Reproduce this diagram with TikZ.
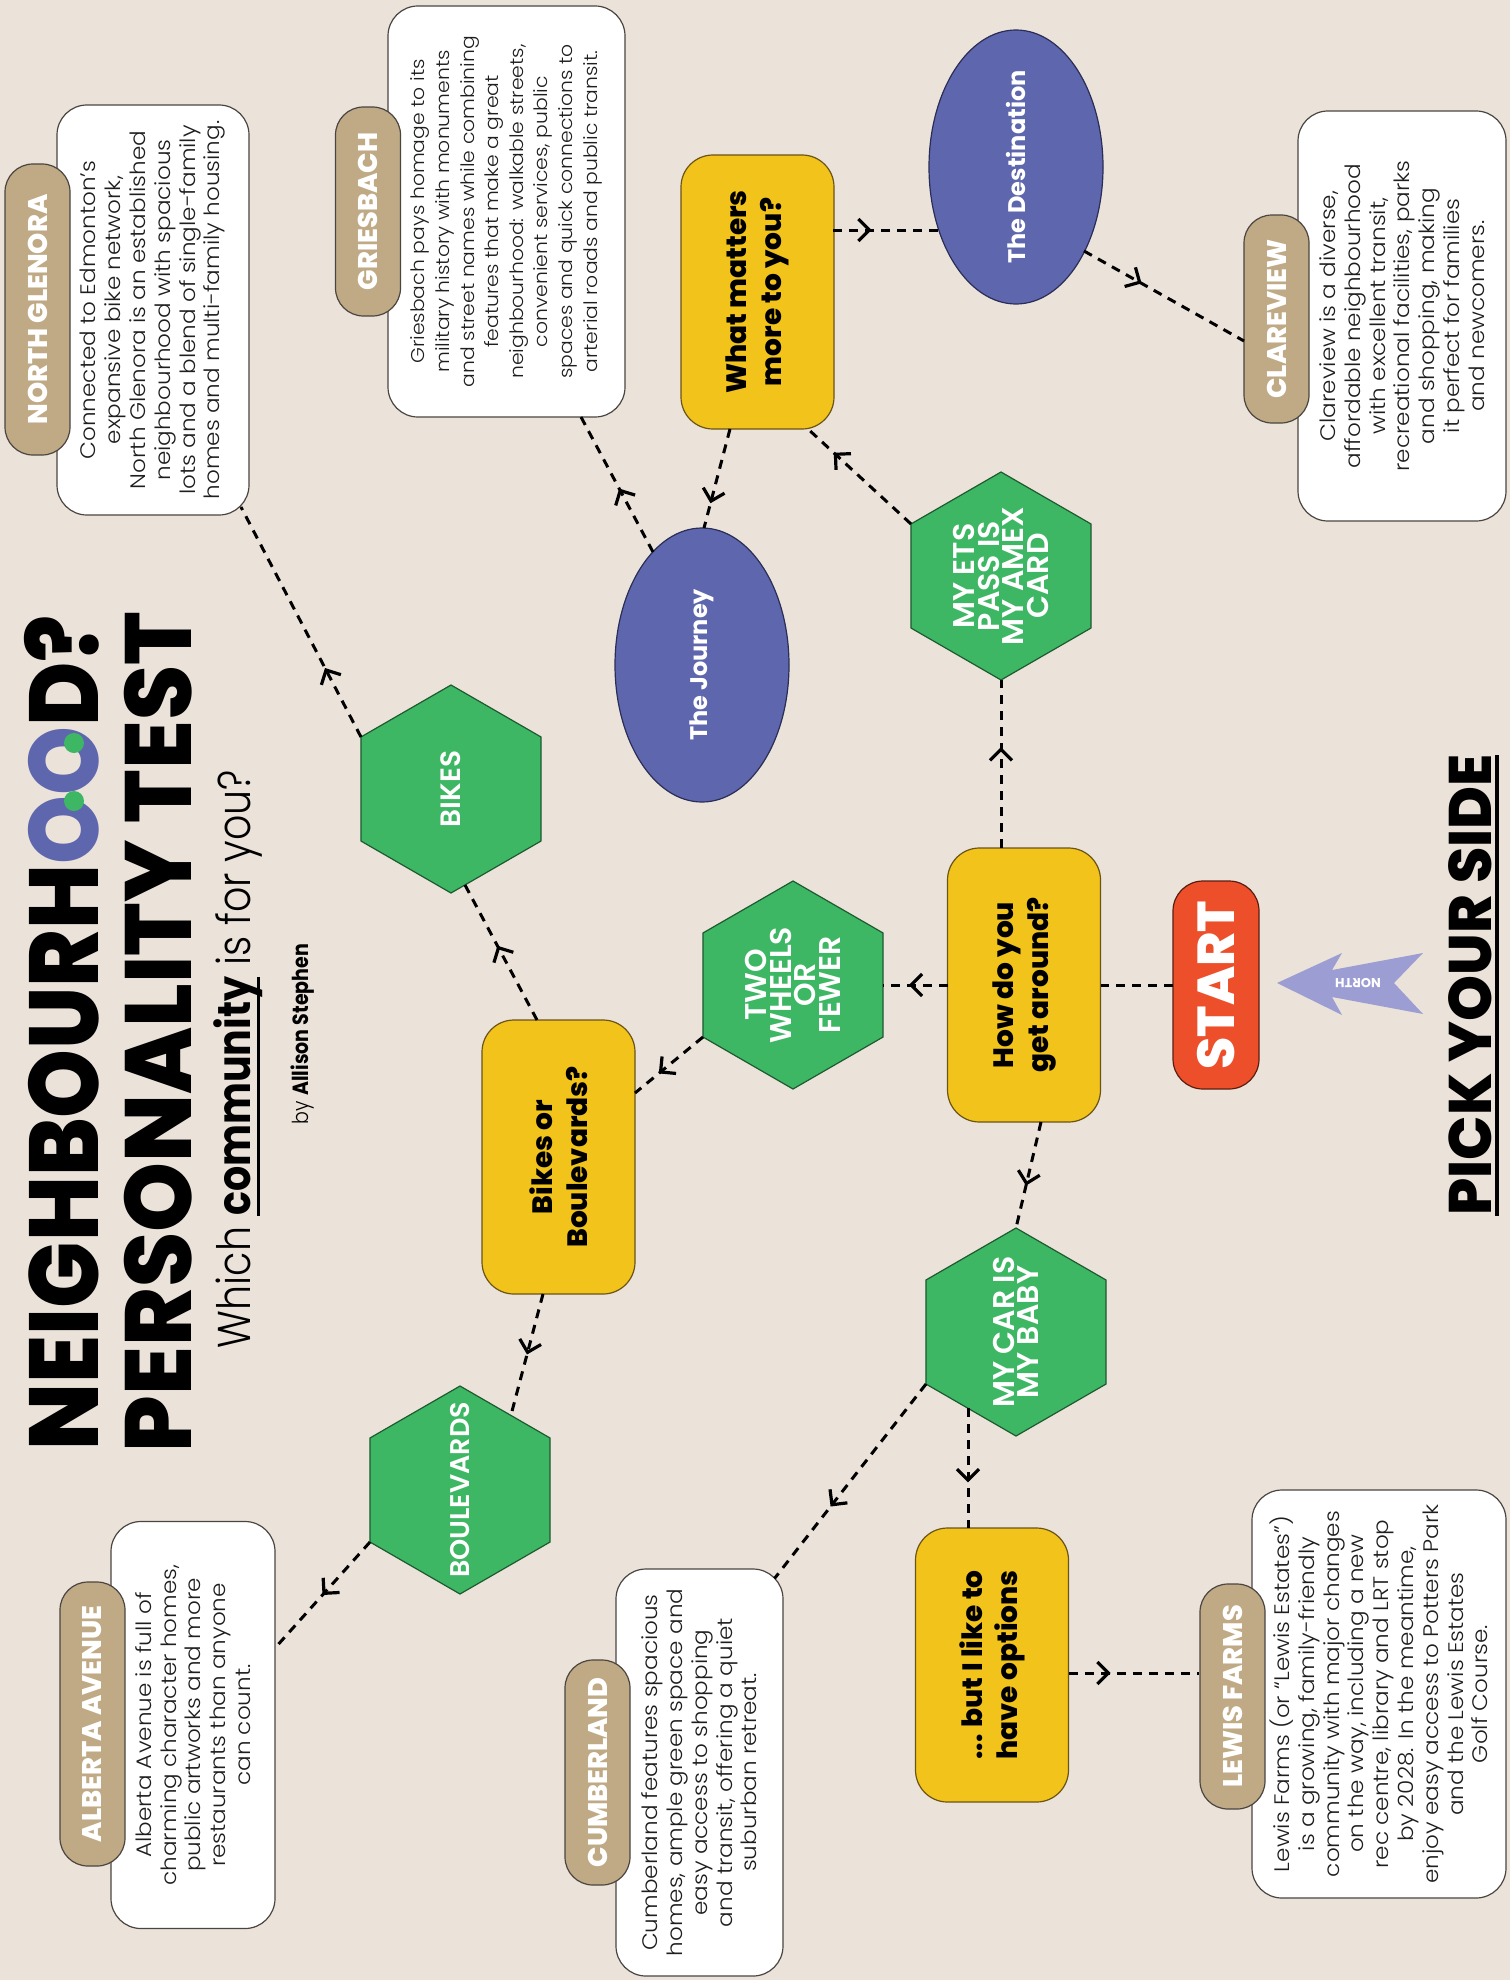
\documentclass[tikz,border=0pt]{standalone}
\usepackage{fontspec}
\usepackage{graphicx}
\setmainfont{Poppins}
\newfontfamily\pxb{Poppins ExtraBold}
\newfontfamily\pbd{Poppins Bold}
\newfontfamily\psb{Poppins SemiBold}
\newfontfamily\plt{Poppins Light}
\newfontfamily\pltw{Poppins Light}[FakeStretch=1.1]
\usetikzlibrary{shapes.geometric,decorations.markings,arrows.meta,calc}
\definecolor{bgc}{HTML}{EBE3D9}
\definecolor{yelc}{HTML}{F2C31A}
\definecolor{yelb}{HTML}{6B5418}
\definecolor{hexc}{HTML}{3DB764}
\definecolor{hexb}{HTML}{1E5A30}
\definecolor{purc}{HTML}{5E66AE}
\definecolor{purb}{HTML}{2A2D55}
\definecolor{redc}{HTML}{EE4F2B}
\definecolor{redb}{HTML}{5A1E10}
\definecolor{tanc}{HTML}{BFAA85}
\definecolor{lavc}{HTML}{9C9ED3}
\definecolor{txtc}{HTML}{1E1E1E}
\definecolor{boxb}{HTML}{4A4540}
\newcommand\myul[3]{\setbox0\hbox{#1}\rlap{\rule[#2]{\wd0}{#3}}\box0}
\begin{document}
\begin{tikzpicture}[x=1pt,y=-1pt,
  base/.style={rotate=90,align=center,inner sep=0pt,outer sep=0pt},
  ybox/.style={base,draw=yelb,line width=1.2pt,fill=yelc,rounded corners=32pt,minimum width=274pt,minimum height=153pt,text=black,font=\pxb\fontsize{28pt}{35pt}\selectfont},
  startbox/.style={base,draw=redb,line width=1.2pt,fill=redc,rounded corners=30pt,minimum width=208pt,minimum height=86pt,text=white,font=\pxb\fontsize{52pt}{52pt}\selectfont},
  hexa/.style={base,regular polygon,regular polygon sides=6,minimum size=208pt,draw=hexb,line width=1.2pt,fill=hexc},
  hextext/.style={base,text=white,font=\psb\fontsize{30pt}{24.5pt}\selectfont},
  ell/.style={base,ellipse,minimum width=274pt,minimum height=174pt,draw=purb,line width=1.2pt,fill=purc,text=white,font=\pbd\fontsize{24pt}{28pt}\selectfont},
  wbox/.style={base,draw=boxb,line width=1.2pt,fill=white,rounded corners=30pt,minimum width=410pt,text=txtc,font=\pltw\fontsize{21pt}{24.8pt}\selectfont},
  tagbox/.style={base,draw=boxb,line width=1.2pt,fill=tanc,rounded corners=28pt,minimum height=65pt,text=white,font=\pxb\fontsize{27pt}{27pt}\selectfont},
  flow/.style={draw=black,line width=3pt,dash pattern=on 9pt off 7pt,postaction={decorate},decoration={markings,mark=at position #1 with {\arrow[solid,line width=3.2pt]{Straight Barb[length=11pt,width=22pt]}}}},
  flow/.default=0.5,
  plainflow/.style={draw=black,line width=3pt,dash pattern=on 9pt off 7pt}]
\useasboundingbox (0,0) rectangle (1510,1980);
\fill[bgc] (0,0) rectangle (1510,1980);

% titles
\node[base] (t1) at (61.5,1032.5) {\resizebox{835pt}{\height}{\pxb\fontsize{98pt}{98pt}\selectfont NEIGHBOURH\textcolor{purc}{OO}D?}};
\fill[hexc] (74,801) circle (10);
\fill[hexc] (74,743) circle (10);
\node[base] (t2) at (158,1032) {\resizebox{840pt}{\height}{\pxb\fontsize{94pt}{94pt}\selectfont PERSONALITY TEST}};
\node[base,text=black] (which) at (238,1059) {\resizebox{578pt}{\height}{\fontsize{46pt}{46pt}\selectfont{\plt Which }\myul{\pbd community}{-0.2em}{0.05em}{\plt\ is for you?}}};
\node[base,text=black] (by) at (303,1034) {\resizebox{180pt}{\height}{\fontsize{22pt}{22pt}\selectfont{\plt by }{\pbd Allison Stephen}}};
\node[base,text=black] (pick) at (1474,985) {\resizebox{461pt}{\height}{\pxb\fontsize{60pt}{60pt}\selectfont\myul{PICK YOUR SIDE}{-0.12em}{0.07em}}};

% north arrow
\fill[lavc] (1277,983) -- (1342,953) -- (1332,970) -- (1423,953) -- (1394,983) -- (1423,1014) -- (1332,997) -- (1342,1015) -- cycle;
\node[rotate=180,inner sep=0pt,text=white,font=\pbd\fontsize{13pt}{13pt}\selectfont] (northt) at (1358,983) {NORTH};

% white description boxes and tags
\node[wbox,minimum height=192pt] (glen) at (153,310) {Connected to Edmonton’s\\expansive bike network,\\North Glenora is an established\\neighbourhood with spacious\\lots and a blend of single-family\\homes and multi-family housing.};
\node[tagbox,minimum width=291pt] (glentag) at (37.5,309.5) {NORTH GLENORA};
\node[wbox,minimum height=237pt,minimum width=411pt,font=\pltw\fontsize{18.5pt}{24.6pt}\selectfont] (gries) at (506.5,211.5) {Griesbach pays homage to its\\military history with monuments\\and street names while combining\\features that make a great\\neighbourhood: walkable streets,\\convenient services, public\\spaces and quick connections to\\arterial roads and public transit.};
\node[tagbox,minimum width=209pt] (griestag) at (368,211.5) {GRIESBACH};
\node[wbox,minimum height=208pt] (clare) at (1402,316) {Clareview is a diverse,\\affordable neighbourhood\\with excellent transit,\\recreational facilities, parks\\and shopping, making\\it perfect for families\\and newcomers.};
\node[tagbox,minimum width=208pt] (claretag) at (1276.5,319) {CLAREVIEW};
\node[wbox,minimum height=164pt,minimum width=407pt] (alb) at (193,1725) {Alberta Avenue is full of\\charming character homes,\\public artworks and more\\restaurants than anyone\\can count.};
\node[tagbox,minimum width=284pt] (albtag) at (92.5,1724) {ALBERTA AVENUE};
\node[wbox,minimum height=167pt,minimum width=407pt] (cumb) at (699.5,1772.5) {Cumberland features spacious\\homes, ample green space and\\easy access to shopping\\and transit, offering a quiet\\suburban retreat.};
\node[tagbox,minimum width=225pt] (cumbtag) at (597.5,1772.5) {CUMBERLAND};
\node[wbox,minimum height=254pt,minimum width=408pt] (lewis) at (1379,1694) {Lewis Farms (or “Lewis Estates”)\\is a growing, family-friendly\\community with major changes\\on the way, including a new\\rec centre, library and LRT stop\\by 2028. In the meantime,\\enjoy easy access to Potters Park\\and the Lewis Estates\\Golf Course.};
\node[tagbox,minimum width=225pt] (lewistag) at (1232.5,1696.5) {LEWIS FARMS};

% question boxes
\node[ybox] (what) at (757.5,292) {What matters\\more to you?};
\node[ybox] (how) at (1024,985) {How do you\\get around?};
\node[ybox] (bob) at (558.5,1157) {Bikes or\\Boulevards?};
\node[ybox] (opts) at (992,1665) {... but I like to\\have options};
\node[startbox] (start) at (1216,985) {START};

% ellipses
\node[ell] (dest) at (1016,167) {The Destination};
\node[ell] (journey) at (702,665) {The Journey};

% hexagons
\node[hexa] (bikes) at (451,789) {};
\node[hextext,font=\psb\fontsize{28pt}{24pt}\selectfont] (bikes-t) at (bikes) {BIKES};
\node[hexa] (ets) at (1001,576) {};
\node[hextext] (ets-t) at (ets) {MY ETS\\PASS IS\\MY AMEX\\CARD};
\node[hexa] (two) at (793,985) {};
\node[hextext] (two-t) at (two) {TWO\\WHEELS\\OR\\FEWER};
\node[hexa] (car) at (1016,1332) {};
\node[hextext] (car-t) at (car) {MY CAR IS\\MY BABY};
\node[hexa] (boul) at (460,1490) {};
\node[hextext,font=\psb\fontsize{27pt}{24pt}\selectfont] (boul-t) at (boul) {BOULEVARDS};

% connectors
\draw[plainflow] (start) -- (how);
\draw[flow=0.6] (how) -- (two);
\draw[flow=0.6] ($(how)+(-23,-137)$) -- ($(ets)+(0,104)$);
\draw[flow=0.6] ($(how)+(17,137)$) -- ($(car)+(0,-104)$);
\draw[flow=0.65] ($(two)+(-90,52)$) -- ($(bob)+(76.5,-64)$);
\draw[flow=0.55] ($(bob)+(-21.5,-137)$) -- ($(bikes)+(14,96)$);
\draw[flow=0.5] ($(bob)+(-15.5,137)$) -- ($(boul)+(51,-75)$);
\draw[flow=0.3] ($(bikes)+(-90,-52)$) -- ($(glen)+(88,197)$);
\draw[flow=0.75] ($(ets)+(-90,-52)$) -- ($(what)+(50.5,137)$);
\draw[flow=0.75] ($(what)+(-27.5,137)$) -- ($(journey)+(2,-137)$);
\draw[flow=0.47] ($(journey)+(-49,-113)$) -- ($(gries)+(74.5,205.5)$);
\draw[flow=0.36] ($(what)+(75.5,-62)$) -- ($(dest)+(-76,63)$);
\draw[flow=0.36] ($(dest)+(68,84)$) -- ($(claretag)+(-32.5,22)$);
\draw[flow=0.63] ($(car)+(-90,52)$) -- ($(cumb)+(75,-194)$);
\draw[flow=0.62] ($(car)+(-48,76)$) -- ($(opts)+(-24,-137)$);
\draw[flow=0.32] ($(opts)+(77,8)$) -- ($(lewistag)+(-33.5,-23.5)$);
\draw[flow=0.5] ($(boul)+(-90,52)$) -- ($(alb)+(82,-77)$);
\end{tikzpicture}
\end{document}
